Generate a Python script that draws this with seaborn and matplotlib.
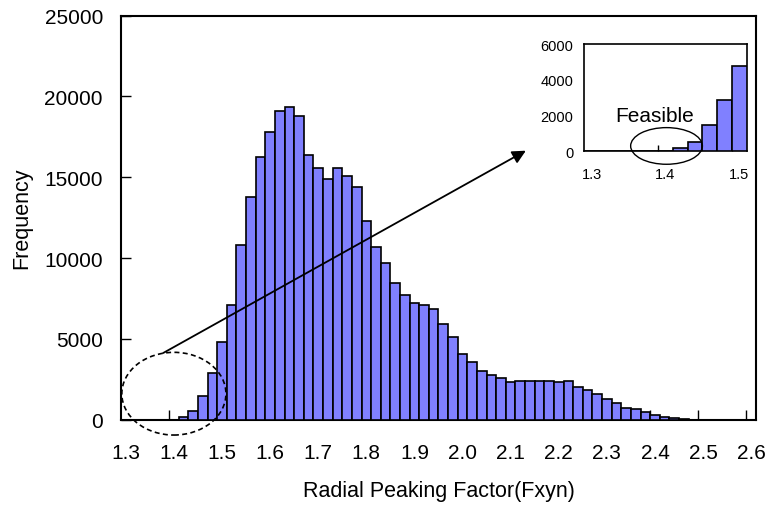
import matplotlib
matplotlib.use("Agg")
import matplotlib.pyplot as plt
from matplotlib.patches import Ellipse
import numpy as np
import pandas as pd
import seaborn as sns

# histogram bins (0.02 wide, labelled by their start value) and counts
bin_labels = ["%.2f" % (1.30 + 0.02 * i) for i in range(66)]
counts = [0, 0, 0, 0, 0, 0, 190, 540, 1480, 2870,
          4790, 7090, 10800, 13750, 16230, 17810, 19090, 19360, 18800, 16390,
          15570, 14870, 15570, 15110, 14400, 12270, 10690, 9690, 8470, 7730,
          7200, 7090, 6830, 5900, 5100, 4060, 3590, 3030, 2780, 2580,
          2310, 2410, 2410, 2410, 2410, 2310, 2410, 2010, 1860, 1580,
          1290, 1030, 740, 650, 475, 290, 185, 85, 70, 0,
          0, 0, 0, 0, 0, 0]
x_tick_labels = ["1.3", "1.4", "1.5", "1.6", "1.7", "1.8", "1.9",
                 "2.0", "2.1", "2.2", "2.3", "2.4", "2.5", "2.6"]
y_ticks = [0, 5000, 10000, 15000, 20000, 25000]

# inset: zoom on the low end (1.30 - 1.50)
inset_n = 11
inset_tick_labels = ["1.3", "1.4", "1.5"]
inset_y_ticks = [0, 2000, 4000, 6000]

df = pd.DataFrame({"bin": bin_labels, "count": counts})
df_in = df.iloc[:inset_n]

sns.set_style("ticks")
plt.rcParams["font.family"] = ["Liberation Sans", "DejaVu Sans"]
plt.rcParams.update({"text.color": "black", "axes.labelcolor": "black",
                     "xtick.color": "black", "ytick.color": "black"})

bar_color = "#8080ff"

fig = plt.figure(figsize=(7.69, 5.06), dpi=100)
ax = fig.add_axes([0.1573, 0.1686, 0.8258, 0.7984])

sns.barplot(data=df, x="bin", y="count", order=bin_labels, color=bar_color,
            saturation=1, width=1, edgecolor="black", linewidth=1.2, ax=ax, zorder=3)

ax.set_xlim(-0.5, len(bin_labels) - 0.5)
ax.set_ylim(0, 25000)
ax.set_xticks(range(0, 66, 5))
ax.set_xticklabels(x_tick_labels)
ax.set_xticks(np.arange(4.5, 65, 5), minor=True)
ax.tick_params(axis="x", which="major", length=0, pad=17, labelsize=15)
ax.tick_params(axis="x", which="minor", direction="in", length=7, width=1, color="black")
ax.set_yticks(y_ticks)
ax.tick_params(axis="y", direction="in", length=7, width=1, pad=13, labelsize=15)
for s in ax.spines.values():
    s.set_visible(True)
    s.set_linewidth(1.5)
    s.set_color("black")
ax.set_xlabel("Radial Peaking Factor(Fxyn)", fontsize=15.5, labelpad=13)
ax.set_ylabel("Frequency", fontsize=15.5, labelpad=9)

# dashed ellipse around the feasible region + arrow to the inset
ax.add_patch(Ellipse((5.0, 1609), 10.82, 5118, fill=False, ec="black", lw=1.2,
                     ls=(0, (3, 2)), clip_on=False, zorder=5))
ax.annotate("", xy=(41.58, 16646), xytext=(3.89, 4127),
            arrowprops=dict(arrowstyle="-|>", color="black", lw=1.3,
                            mutation_scale=20, shrinkA=0, shrinkB=0),
            annotation_clip=False, zorder=5)

# inset
ax_in = fig.add_axes([0.7598, 0.699, 0.2112, 0.212])
sns.barplot(data=df_in, x="bin", y="count", order=bin_labels[:inset_n], color=bar_color,
            saturation=1, width=1, edgecolor="black", linewidth=1.2, ax=ax_in, zorder=3)
ax_in.set_xlim(-0.5, inset_n - 0.5)
ax_in.set_ylim(0, 6000)
ax_in.set_xticks([0, 5, 10])
ax_in.set_xticklabels(inset_tick_labels)
ax_in.set_xticks([4.5, 9.5], minor=True)
ax_in.tick_params(axis="x", which="major", length=0, pad=11, labelsize=10.5)
ax_in.tick_params(axis="x", which="minor", direction="in", length=4, width=1, color="black")
ax_in.set_yticks(inset_y_ticks)
ax_in.tick_params(axis="y", length=0, pad=8, labelsize=10.5)
for s in ax_in.spines.values():
    s.set_visible(True)
    s.set_linewidth(1.2)
    s.set_color("black")
ax_in.set_xlabel("")
ax_in.set_ylabel("")
ax_in.add_patch(Ellipse((5.07, 300), 4.86, 2050, fill=False, ec="black", lw=1,
                        clip_on=False, zorder=5))
ax_in.text(4.29, 2030, "Feasible", ha="center", va="center", fontsize=15)

fig.savefig("out.png", dpi=100)
